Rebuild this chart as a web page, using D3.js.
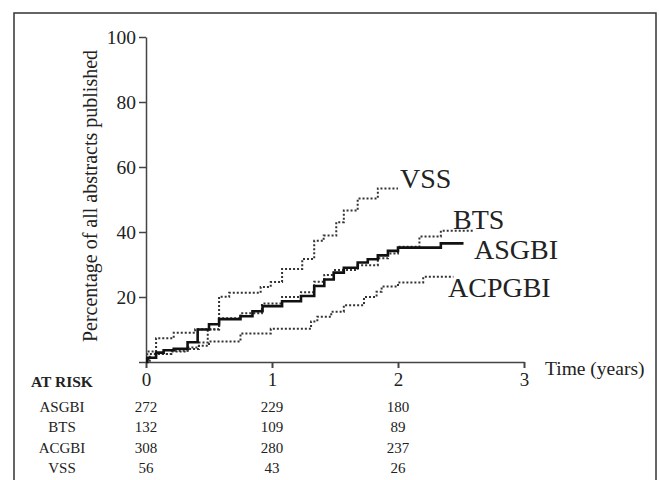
<!DOCTYPE html>
<html>
<head>
<meta charset="utf-8">
<script src="https://cdn.jsdelivr.net/npm/d3@7"></script>
<style>
  body { margin: 0; background: #fff; }
  text { font-family: "Liberation Serif", "Times New Roman", serif; fill: #222; }
</style>
</head>
<body>
<svg id="chart" width="659" height="480"></svg>
<script>
// step data: [years, % published]
var asgbi = [[0,0],[0.01,1.3],[0.08,2.9],[0.14,3.6],[0.22,4.1],[0.33,6.1],[0.41,10],[0.5,11.6],[0.58,13.2],
  [0.75,14.1],[0.845,15.6],[0.925,17.2],[1.08,18.7],[1.23,20.3],[1.335,23.4],[1.415,25.4],[1.49,27.5],
  [1.57,29],[1.68,30.6],[1.76,31.6],[1.84,32.8],[1.92,34.2],[2.0,35.2],[2.34,36.5],[2.52,36.5]];
var bts = [[0,0],[0.03,2.5],[0.2,3.5],[0.33,4.5],[0.42,6],[0.49,10],[0.58,13.5],[0.75,15],[0.92,18],
  [1.08,20],[1.23,21.5],[1.335,24.7],[1.415,26.8],[1.49,28.3],[1.68,29.8],[1.84,31.9],[1.92,33.4],
  [2.0,35.5],[2.17,38.6],[2.34,40.4],[2.6,40.4]];
var acpgbi = [[0,0],[0.02,1.3],[0.08,2.5],[0.2,3.2],[0.33,4],[0.42,5],[0.5,6.3],[0.75,8.8],[0.99,10.2],
  [1.31,12.5],[1.36,13.9],[1.47,15.5],[1.57,17.5],[1.73,20],[1.83,21.6],[1.87,23.2],[2.0,24.5],
  [2.2,26.2],[2.44,26.2]];
var vss = [[0,0],[0.01,3.2],[0.08,7.3],[0.22,9],[0.39,10.1],[0.58,20.1],[0.66,21.3],[0.91,23.1],
  [0.99,24.6],[1.08,28.6],[1.24,31.7],[1.335,37.3],[1.41,38.9],[1.51,43],[1.57,46.6],[1.68,50.3],
  [1.84,53.4],[2.0,53.4]];

var yTicks = [0, 20, 40, 60, 80, 100];
var xTicks = [0, 1, 2, 3];

var riskGroups = ["ASGBI", "BTS", "ACGBI", "VSS"];
var riskAt0 = [272, 132, 308, 56];
var riskAt1 = [229, 109, 280, 43];
var riskAt2 = [180, 89, 237, 26];

var svg = d3.select("#chart");

// outer frame
svg.append("rect")
  .attr("x", 14).attr("y", 13).attr("width", 642).attr("height", 480)
  .attr("fill", "none").attr("stroke", "#333").attr("stroke-width", 1.5);

var x = d3.scaleLinear().domain([0, 3]).range([146, 524]);
var y = d3.scaleLinear().domain([0, 100]).range([362, 37]);

// y axis
var yAxis = svg.append("g")
  .attr("transform", "translate(146,0)")
  .call(d3.axisLeft(y).tickValues(yTicks).tickSize(7).tickSizeOuter(0)
    .tickFormat(function (d) { return d === 0 ? "" : d; }));
yAxis.select(".domain").attr("stroke", "#444").attr("stroke-width", 1.5);
yAxis.selectAll(".tick line").attr("stroke", "#444").attr("stroke-width", 1.5);
yAxis.selectAll(".tick text")
  .attr("x", -10).attr("dy", "0.35em")
  .style("font-family", "Liberation Serif, serif").style("font-size", "19.5px").attr("fill", "#222");

// x axis
var xAxis = svg.append("g")
  .attr("transform", "translate(0,362)")
  .call(d3.axisBottom(x).tickValues(xTicks).tickSize(6).tickSizeOuter(0)
    .tickFormat(d3.format("d")));
xAxis.select(".domain").attr("stroke", "#444").attr("stroke-width", 1.5);
xAxis.selectAll(".tick line").attr("stroke", "#444").attr("stroke-width", 2);
xAxis.selectAll(".tick text")
  .attr("y", 10).attr("dy", "0.75em")
  .style("font-family", "Liberation Serif, serif").style("font-size", "19px").attr("fill", "#222");

svg.append("text")
  .attr("x", 545).attr("y", 375)
  .style("font-size", "19.5px")
  .text("Time (years)");

svg.append("text")
  .attr("transform", "translate(97,196) rotate(-90)")
  .attr("text-anchor", "middle")
  .style("font-size", "20px")
  .text("Percentage of all abstracts published");

// survival-style step lines
var line = d3.line()
  .x(function (d) { return x(d[0]); })
  .y(function (d) { return y(d[1]); })
  .curve(d3.curveStepAfter);

var series = [
  { name: "ACPGBI", data: acpgbi, dash: true, lx: 448, ly: 297 },
  { name: "BTS", data: bts, dash: true, lx: 453, ly: 229 },
  { name: "VSS", data: vss, dash: true, lx: 400, ly: 188 },
  { name: "ASGBI", data: asgbi, dash: false, lx: 474, ly: 259 }
];

series.forEach(function (s) {
  svg.append("path")
    .datum(s.data)
    .attr("d", line)
    .attr("fill", "none")
    .attr("stroke", s.dash ? "#333" : "#111")
    .attr("stroke-width", s.dash ? 2 : 2.6)
    .attr("stroke-dasharray", s.dash ? "2,2" : null);
  svg.append("text")
    .attr("x", s.lx).attr("y", s.ly)
    .style("font-size", "28px")
    .text(s.name);
});

// at-risk table
svg.append("text")
  .attr("x", 62).attr("y", 387)
  .attr("text-anchor", "middle")
  .style("font-size", "15.5px").style("font-weight", "bold")
  .text("AT RISK");

var rowY = d3.scalePoint().domain(riskGroups).range([412, 473]);
var cols = [riskAt0, riskAt1, riskAt2];

riskGroups.forEach(function (g, i) {
  svg.append("text")
    .attr("x", 62).attr("y", rowY(g))
    .attr("text-anchor", "middle")
    .style("font-size", "15px")
    .text(g);
  cols.forEach(function (c, j) {
    svg.append("text")
      .attr("x", x(j)).attr("y", rowY(g))
      .attr("text-anchor", "middle")
      .style("font-size", "15px")
      .text(c[i]);
  });
});
</script>
</body>
</html>
